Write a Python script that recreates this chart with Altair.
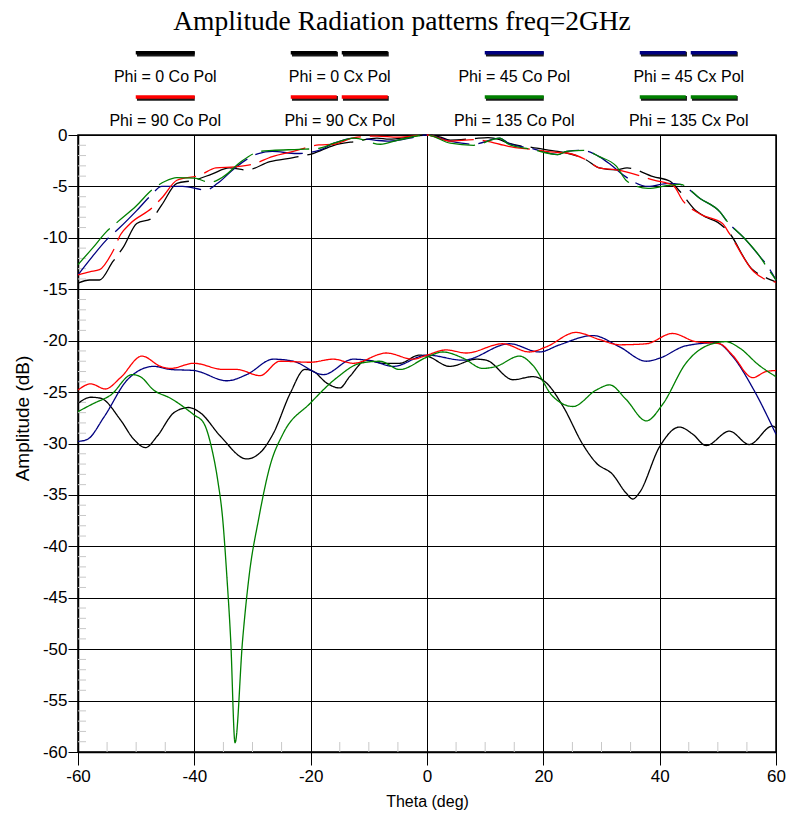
import altair as alt
import pandas as pd

# ---- co-polar cuts (dashed) ----
P0_CO_T = [-60, -58, -56.3, -54, -52.2, -49.9, -47.3, -45.6, -43, -40, -37, -34, -31, -27, -23, -19.6,
           -16, -12, -8.6, -6.5, -3, 0, 2, 4, 8, 10.5, 12.5, 14, 18, 22.5, 24, 27.3, 29.6, 32.5, 34.4,
           38.9, 41.8, 43.5, 46.3, 48, 50, 51.8, 55.8, 58, 60]
P0_CO_DB = [-14.4, -14.1, -14.1, -12.3, -10.9, -8.6, -8.1, -6.8, -4.7, -4.4, -3.8, -3.2, -3.4, -2.6,
            -2.2, -1.8, -1.0, -0.6, -0.3, -0.4, -0.2, 0.0, -0.15, -0.5, -0.35, -0.25, -0.45, -0.8,
            -1.2, -1.6, -1.75, -2.4, -3.2, -3.4, -3.2, -4.05, -4.5, -5.5, -7.4, -8.0, -8.5, -9.4,
            -13.0, -13.8, -14.3]

P90_CO_T = [-60, -58, -56.3, -54, -52.7, -51, -47.3, -45.4, -43, -39, -36.3, -33, -30, -26.6, -23,
            -18.6, -16, -12.5, -8.6, -5, 0, 4, 8, 12.5, 14, 18, 22.5, 24, 27.3, 29.6, 32.5, 34.4, 39,
            42.3, 44, 47, 50.8, 52, 56.2, 58, 60]
P90_CO_DB = [-13.6, -13.3, -13.1, -11.3, -9.7, -8.6, -7.1, -6.0, -4.4, -3.9, -3.2, -3.1, -2.85,
             -2.1, -1.6, -0.97, -0.9, -0.26, -0.1, -0.2, 0.0, -0.6, -0.45, -0.9, -1.1, -1.4, -1.7,
             -1.75, -2.4, -3.2, -3.4, -3.6, -4.4, -4.9, -6.4, -7.7, -8.6, -9.6, -13.3, -14.0, -14.3]

P45_CO_T = [-60, -57.5, -55.1, -53, -50, -47.5, -45.6, -42, -38, -36, -33, -29, -26.6, -22.4, -18.6,
            -16, -12.5, -9, -6.5, -3, 0, 4, 8, 12.5, 14, 18, 22.5, 24, 26.6, 29.6, 31.6, 34, 38, 41.5,
            43.5, 47, 50.4, 51.6, 54.5, 57.2, 58.5, 60]
P45_CO_DB = [-13.6, -11.8, -10.2, -9.1, -7.4, -5.9, -5.0, -5.0, -5.35, -4.7, -3.2, -1.8, -1.6, -1.8,
             -1.5, -0.8, -0.3, -0.5, -0.6, -0.3, 0.0, -0.6, -0.9, -0.3, -0.8, -1.3, -1.9, -1.6, -1.5,
             -2.1, -2.9, -4.0, -5.0, -4.7, -4.8, -6.2, -7.5, -8.4, -10.0, -11.8, -12.7, -14.1]

P135_CO_T = [-60, -57.5, -55.1, -53.1, -50, -47.3, -45, -43, -40, -37.3, -35, -32, -28.7, -26.6,
             -22, -18.6, -16, -12.5, -8, -5, 0, 4, 8, 12.5, 14, 18, 22.5, 24, 27, 29.6, 32.5, 34.4,
             38, 41.5, 43.5, 47, 50.4, 51.6, 54.5, 57.2, 58.5, 60]
P135_CO_DB = [-12.6, -11.0, -9.4, -8.4, -6.9, -5.35, -4.5, -4.15, -4.2, -4.6, -4.05, -2.6, -1.6,
              -1.5, -1.4, -1.3, -0.8, -0.3, -0.9, -0.5, 0.0, -0.8, -1.0, -0.3, -0.9, -1.4, -1.9,
              -1.6, -1.5, -2.1, -3.0, -4.5, -5.2, -4.9, -4.8, -6.2, -7.5, -8.4, -10.0, -11.8, -12.9,
              -14.1]

# ---- cross-polar cuts (solid) ----
P0_CX_T = [-60, -57.8, -56.1, -52.7, -50.4, -48.4, -46.4, -43.5, -41, -39, -35.5, -31, -28.7, -26.4,
           -23.5, -21, -19.5, -17.3, -15, -13.3, -10.4, -7.5, -4.7, -1.3, 0, 3.9, 8.5, 10.2, 14.8,
           18.2, 20.5, 23.4, 26.8, 29.1, 31.9, 34.2, 35.4, 36.5, 40, 43.4, 45.7, 48, 52, 55.4, 59.4, 60]
P0_CX_DB = [-26.1, -25.5, -25.6, -27.7, -29.6, -30.4, -29.3, -27.0, -26.5, -27.0, -29.3, -31.5,
            -30.9, -29.0, -25.1, -22.8, -23.0, -24.1, -24.6, -23.5, -21.9, -22.2, -22.2, -21.4,
            -21.5, -22.5, -21.8, -21.9, -23.8, -23.5, -24.1, -26.4, -30.1, -31.9, -33.0, -34.8,
            -35.4, -34.8, -30.3, -28.4, -29.1, -30.2, -28.8, -30.1, -28.3, -28.5]

P90_CX_T = [-60, -57.8, -55.3, -52.7, -49, -45.8, -44.1, -40.1, -35, -32.7, -28.7, -25.3, -20.1,
            -16.1, -12.7, -7, -2.4, 0, 3.3, 6.75, 13, 17.6, 20.5, 25.6, 29.7, 33.1, 37.7, 42.2, 46.2,
            50.3, 52.5, 56, 58.3, 60]
P90_CX_DB = [-24.8, -24.2, -24.7, -23.6, -21.5, -22.5, -22.7, -22.2, -22.8, -22.8, -23.4, -22.0,
             -22.1, -21.8, -22.2, -21.2, -21.8, -21.4, -20.9, -21.2, -20.3, -21.1, -20.6, -19.2,
             -19.9, -20.4, -20.3, -19.3, -20.1, -20.3, -21.4, -23.6, -23.0, -22.9]

P45_CX_T = [-60, -58.4, -55.5, -51.5, -47, -44.1, -40.1, -34.4, -31, -26.4, -23, -17.8, -12.7, -9.3,
            -5.8, 0, 6.2, 14.2, 19.3, 22.8, 28.5, 33.1, 37.7, 40, 44.5, 49.7, 52.5, 56, 60]
P45_CX_DB = [-29.8, -29.6, -27.4, -23.8, -22.5, -22.8, -22.9, -23.9, -23.3, -21.8, -22.0, -23.3,
             -21.8, -22.0, -22.5, -21.4, -21.9, -20.3, -21.1, -20.4, -19.5, -20.6, -22.0, -21.7,
             -20.5, -20.2, -21.5, -24.6, -29.1]

P135_CX_T = [-60, -57.3, -54.4, -50.7, -49.3, -47, -44.1, -40.1, -38.4, -37, -36, -35.1, -34.4,
             -33.75, -33, -31.7, -30.5, -29, -27, -24.7, -20.1, -15.5, -11.5, -8.1, -4.7, 0, 2.7,
             6.2, 9.6, 11.9, 15.9, 18.2, 21.6, 25.1, 29.1, 31.4, 34.2, 37.7, 40.5, 44.5, 48.5, 51.4,
             53.7, 57.1, 60]
P135_CX_DB = [-26.9, -26.1, -25.3, -23.3, -23.5, -24.8, -25.6, -27.2, -28.0, -30.5, -33.5, -37.5,
              -43.0, -49.1, -59.1, -49.1, -42.5, -37.5, -32.2, -29.0, -26.1, -23.6, -22.2, -22.0,
              -22.8, -21.6, -21.1, -21.7, -22.7, -22.5, -21.5, -22.4, -25.4, -26.4, -24.8, -24.3,
              -25.7, -27.8, -26.2, -22.2, -20.4, -20.1, -20.7, -22.4, -23.5]

SERIES = [
    ("Phi = 0 Co Pol", "Co", P0_CO_T, P0_CO_DB),
    ("Phi = 0 Cx Pol", "Cx", P0_CX_T, P0_CX_DB),
    ("Phi = 45 Co Pol", "Co", P45_CO_T, P45_CO_DB),
    ("Phi = 45 Cx Pol", "Cx", P45_CX_T, P45_CX_DB),
    ("Phi = 90 Co Pol", "Co", P90_CO_T, P90_CO_DB),
    ("Phi = 90 Cx Pol", "Cx", P90_CX_T, P90_CX_DB),
    ("Phi = 135 Co Pol", "Co", P135_CO_T, P135_CO_DB),
    ("Phi = 135 Cx Pol", "Cx", P135_CX_T, P135_CX_DB),
]
NAMES = [s[0] for s in SERIES]
COLORS = ["#000000", "#000000", "#000080", "#000080", "#ff0000", "#ff0000", "#008000", "#008000"]

X_TICKS = [-60, -40, -20, 0, 20, 40, 60]
Y_TICKS = list(range(0, -61, -5))
X_MINOR = [v for v in range(-55, 60, 5) if v % 20 != 0]
Y_MINOR = [v for v in range(-59, 0) if v % 5 != 0]

W, H = 698, 617
SANS = "Liberation Sans, Arial"

rows = []
for name, pol, ts, dbs in SERIES:
    for t, d in zip(ts, dbs):
        rows.append({"series": name, "pol": pol, "theta": t, "db": d})
curves = pd.DataFrame(rows)

xs = alt.Scale(domain=[-60, 60], nice=False, zero=False)
ys = alt.Scale(domain=[-60, 0], nice=False, zero=False)
color_scale = alt.Scale(domain=NAMES, range=COLORS)

x_axis = alt.Axis(values=X_TICKS, title="Theta (deg)", labelExpr="'' + datum.value", grid=True,
                  gridColor="black", gridWidth=1, gridOpacity=1, tickSize=13, tickColor="black",
                  domainColor="black", domainWidth=1.5, labelFont=SANS, labelFontSize=17,
                  labelColor="black", labelPadding=3, labelFlush=False, titleFont=SANS,
                  titleFontSize=16, titleFontWeight="normal", titleColor="black", titleY=49,
                  titleBaseline="middle")
y_axis = alt.Axis(values=Y_TICKS, title="Amplitude (dB)", labelExpr="'' + datum.value", grid=True,
                  gridColor="black", gridWidth=1, gridOpacity=1, tickSize=10, tickColor="black",
                  domainColor="black", domainWidth=1.5, labelFont=SANS, labelFontSize=17,
                  labelColor="black", labelPadding=1, labelFlush=False, titleFont=SANS,
                  titleFontSize=19, titleFontWeight="normal", titleColor="black", titleX=-56,
                  titleY=283, titleAlign="center", titleBaseline="middle", titleAngle=270)

# inner minor ticks
y_minor = alt.Chart(pd.DataFrame({"v": Y_MINOR})).mark_rule(color="#c8c8c8", strokeWidth=1).encode(
    x=alt.value(0), x2=alt.value(8), y=alt.Y("v:Q", scale=ys, axis=y_axis))
x_minor = alt.Chart(pd.DataFrame({"v": X_MINOR})).mark_rule(color="#c8c8c8", strokeWidth=1).encode(
    x=alt.X("v:Q", scale=xs, axis=x_axis), y=alt.value(H), y2=alt.value(H - 10))

lines = alt.Chart(curves).mark_line(strokeWidth=1.3, interpolate="monotone").encode(
    x=alt.X("theta:Q", scale=xs, axis=x_axis),
    y=alt.Y("db:Q", scale=ys, axis=y_axis),
    color=alt.Color("series:N", scale=color_scale, legend=None),
    strokeDash=alt.StrokeDash("pol:N", scale=alt.Scale(domain=["Co", "Cx"], range=[[48, 9], [1, 0]]),
                              legend=None),
    detail="series:N",
)

# legend grid: four columns, two rows, sample bar above each label
px_deg = W / 120.0
col_center = [-45, -15, 15, 45]
bar_row = [8.0, 3.7]
label_row = [5.6, 1.35]
legend_order = [
    ("Phi = 0 Co Pol", 0, 0), ("Phi = 90 Co Pol", 0, 1),
    ("Phi = 0 Cx Pol", 1, 0), ("Phi = 90 Cx Pol", 1, 1),
    ("Phi = 45 Co Pol", 2, 0), ("Phi = 135 Co Pol", 2, 1),
    ("Phi = 45 Cx Pol", 3, 0), ("Phi = 135 Cx Pol", 3, 1),
]
leg_rows = []
for name, c, r in legend_order:
    pol = "Cx" if "Cx" in name else "Co"
    half = (49 if pol == "Cx" else 29.5) / px_deg
    leg_rows.append({"series": name, "pol": pol, "x0": col_center[c] - half, "x1": col_center[c] + half,
                     "xc": col_center[c], "yb": bar_row[r], "yl": label_row[r]})
leg = pd.DataFrame(leg_rows)


def legend_bars(pol, dash):
    base = alt.Chart(leg).transform_filter(alt.datum.pol == pol)
    shadow = base.mark_rule(strokeWidth=4.6, color="#1a1a1a", xOffset=1.2, yOffset=1.4,
                            strokeCap="butt", strokeDash=dash).encode(
        x=alt.X("x0:Q", scale=xs), x2="x1:Q", y=alt.Y("yb:Q", scale=ys))
    bar = base.mark_rule(strokeWidth=3.6, strokeCap="butt", strokeDash=dash).encode(
        x=alt.X("x0:Q", scale=xs), x2="x1:Q", y=alt.Y("yb:Q", scale=ys),
        color=alt.Color("series:N", scale=color_scale, legend=None))
    return [shadow, bar]


leg_text = alt.Chart(leg).mark_text(font=SANS, fontSize=16, color="black", baseline="middle",
                                    align="center").encode(
    x=alt.X("xc:Q", scale=xs), y=alt.Y("yl:Q", scale=ys), text="series:N")

title = alt.Chart(pd.DataFrame({"t": ["Amplitude Radiation patterns freq=2GHz"],
                                "x": [-4.3], "y": [10.2]})).mark_text(
    font="Liberation Serif, Times New Roman, serif", fontSize=27.5, color="black",
    baseline="alphabetic", align="center").encode(
    x=alt.X("x:Q", scale=xs), y=alt.Y("y:Q", scale=ys), text="t:N")

layers = [y_minor, x_minor, lines] + legend_bars("Co", [1, 0]) + legend_bars("Cx", [46, 5]) + [leg_text, title]

chart = alt.layer(*layers).properties(
    width=W, height=H,
    autosize=alt.AutoSizeParams(type="none"),
    padding={"left": 78, "top": 135, "right": 14, "bottom": 64},
    background="white",
).configure_view(stroke="black", strokeWidth=1.5)

chart.save("out.html", embed_options={"renderer": "svg", "actions": False})
